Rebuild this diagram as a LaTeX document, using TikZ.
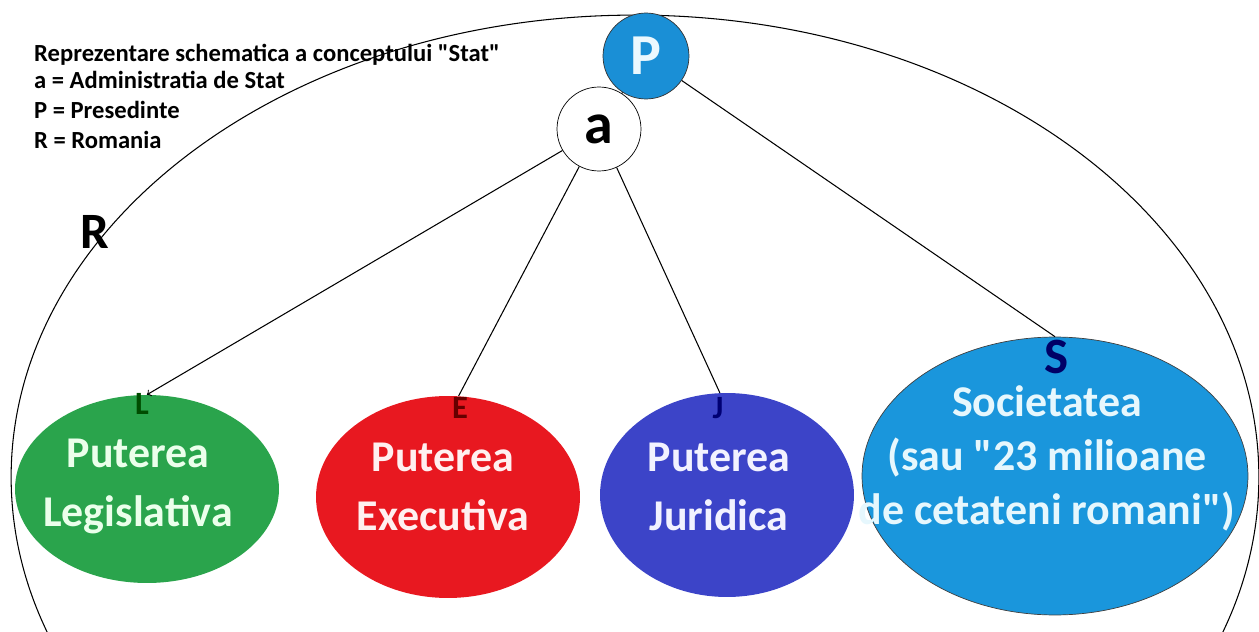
\documentclass[tikz,border=0pt]{standalone}
\usepackage{fontspec}
\setmainfont{Carlito}[Ligatures=TeXOff]
\usetikzlibrary{shapes.geometric}
\definecolor{legGreen}{RGB}{42,164,76}
\definecolor{exeRed}{RGB}{232,24,32}
\definecolor{judBlue}{RGB}{60,68,200}
\definecolor{socBlue}{RGB}{26,150,220}
\definecolor{presBlue}{RGB}{26,143,214}

\begin{document}
\begin{tikzpicture}[x=0.02cm,y=-0.02cm,
  lobe/.style={ellipse,inner sep=0pt},
  lobetext/.style={align=center,inner sep=0pt,font=\bfseries\fontsize{25}{33.6}\selectfont},
  tag/.style={inner sep=0pt,font=\bfseries\fontsize{18.5}{20}\selectfont},
  legend/.style={anchor=base west,font=\bfseries\fontsize{14}{16}\selectfont}]
  \useasboundingbox (0,0) rectangle (1259,632);
  % R = Romania
  \begin{scope}
    \clip (0,0) rectangle (1259,632);
    \draw[line width=0.6pt] (635,477) ellipse [x radius=12.48cm, y radius=9.24cm];
  \end{scope}
  \node[font=\bfseries\fontsize{29}{30}\selectfont] (rLabel) at (95,232) {R};
  % legend
  \node[legend] (leg1) at (28,61) {Reprezentare schematica a conceptului "Stat"};
  \node[legend] (leg2) at (28,89) {a = Administratia de Stat};
  \node[legend] (leg3) at (28,118) {P = Presedinte};
  \node[legend] (leg4) at (28,148) {R = Romania};
  % a and P
  \node[circle,draw,fill=white,inner sep=0pt,minimum size=1.68cm,
    font=\bfseries\fontsize{33}{34}\selectfont] (a) at (599,129) {a};
  \node[circle,draw=black!80,fill=presBlue,text=white!92!cyan,inner sep=0pt,
    minimum size=1.72cm,font=\bfseries\fontsize{33}{34}\selectfont] (P) at (646,56) {P};
  % the four parts
  \node[lobe,fill=legGreen,minimum width=5.28cm,minimum height=3.76cm] (leg) at (147,489) {};
  \node[lobe,fill=exeRed,minimum width=5.28cm,minimum height=4.04cm] (exe) at (448,497) {};
  \node[lobe,fill=judBlue,minimum width=5.08cm,minimum height=4.08cm] (jud) at (727,495) {};
  \node[lobe,draw=black!75,fill=socBlue,minimum width=7.72cm,minimum height=5.56cm] (soc) at (1055,476) {};
  \node[lobetext,text=green!8!white] (legTxt) at (138,486) {Puterea\\Legislativa};
  \node[lobetext,text=red!6!white] (exeTxt) at (443,487) {Puterea\\Executiva};
  \node[lobetext,text=blue!5!white] (judTxt) at (719,487) {Puterea\\Juridica};
  \node[lobetext,text=cyan!10!white,font=\bfseries\fontsize{25}{30.7}\selectfont] (socTxt) at (1047,458) {Societatea\\(sau "23 milioane\\de cetateni romani")};
  \node[tag,text=green!30!black] (lTag) at (142,404) {L};
  \node[tag,text=red!40!black] (eTag) at (460,408) {E};
  \node[tag,text=blue!45!black] (jTag) at (718,408) {J};
  \node[inner sep=0pt,font=\bfseries\fontsize{29}{30}\selectfont,text=blue!40!black] (sTag) at (1057,357) {S};
  % connectors
  \draw[line width=0.6pt] (a) -- (P);
  \draw[line width=0.6pt,->] (a) -- (leg.north);
  \draw[line width=0.6pt] (a) -- (exe.84);
  \draw[line width=0.6pt] (a) -- (jud.94);
  \draw[line width=0.6pt] (P) -- (soc.north);
\end{tikzpicture}
\end{document}
